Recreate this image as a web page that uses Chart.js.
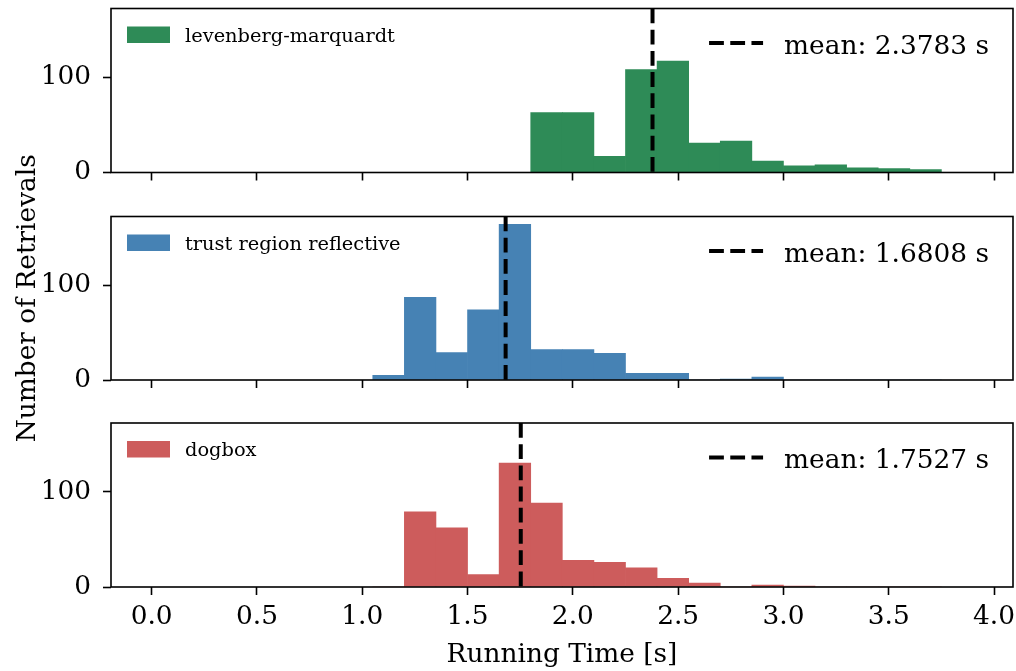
<!DOCTYPE html>
<html>
<head>
<meta charset="utf-8">
<script src="https://cdn.jsdelivr.net/npm/chart.js@4.4.1/dist/chart.umd.min.js"></script>
<style>
  html, body { margin: 0; padding: 0; background: #fff; }
  #wrap { position: relative; width: 1016px; height: 671px; }
  #wrap canvas { position: absolute; left: 0; top: 0; }
</style>
</head>
<body>
<div id="wrap">
  <canvas id="lm" width="1016" height="671"></canvas>
  <canvas id="trf" width="1016" height="671"></canvas>
  <canvas id="dogbox" width="1016" height="671"></canvas>
</div>
<script>
// histogram bins (left edges, seconds), shared by all three panels
const binStarts = [1.05, 1.2, 1.35, 1.5, 1.65, 1.8, 1.95, 2.1, 2.25, 2.4, 2.55, 2.7, 2.85, 3.0, 3.15, 3.3, 3.45, 3.6];
const binWidth = 0.15;

// counts per bin
const lmCounts     = [0, 0, 0, 0, 0, 63, 63, 17, 108, 117, 31, 33, 12, 7, 8, 5, 4, 3];
const trfCounts    = [5, 87, 29, 74, 164, 32, 32, 28, 7, 7, 0, 1, 3, 0, 0, 0, 0, 0];
const dogboxCounts = [0, 79, 62, 13, 130, 88, 28, 26, 20, 9, 4, 0, 2, 1, 0, 0, 0, 0];

const methodNames = ['levenberg-marquardt', 'trust region reflective', 'dogbox'];
const meanTimes = [2.3783, 1.6808, 1.7527];

const xTickValues = [0, 0.5, 1.0, 1.5, 2.0, 2.5, 3.0, 3.5, 4.0];
const yTickValues = [0, 100];

Chart.defaults.font.family = "'DejaVu Serif'";
Chart.defaults.color = 'black';

const FS = 26.4;   // main text size
const yMax = Math.max(...lmCounts, ...trfCounts, ...dogboxCounts) * 1.05;

// legend patch + mean legend + axes frame
const panelDecor = {
  id: 'panelDecor',
  afterDatasetsDraw(chart, args, opts) {
    const { ctx, chartArea: a } = chart;
    ctx.save();
    ctx.fillStyle = opts.color;
    ctx.fillRect(a.left + 16, a.top + 18, 43, 16.5);
    ctx.fillStyle = '#000';
    ctx.font = "19.4px 'DejaVu Serif'";
    ctx.textBaseline = 'alphabetic';
    ctx.textAlign = 'left';
    ctx.fillText(opts.label, a.left + 74, a.top + 33);

    ctx.font = FS + "px 'DejaVu Serif'";
    ctx.textAlign = 'right';
    const tx = a.right - 24;
    ctx.fillText(opts.meanText, tx, a.top + 45);
    const w = ctx.measureText(opts.meanText).width;
    const x1 = tx - w - 21;
    ctx.strokeStyle = '#000';
    ctx.lineWidth = 4;
    ctx.lineCap = 'butt';
    ctx.setLineDash([14.8, 6.4]);
    ctx.beginPath();
    ctx.moveTo(x1 - 54, a.top + 34.6);
    ctx.lineTo(x1, a.top + 34.6);
    ctx.stroke();

    ctx.setLineDash([]);
    ctx.lineWidth = 1.6;
    ctx.strokeRect(a.left, a.top, a.right - a.left, a.bottom - a.top);
    ctx.restore();
  }
};

function noPad(s) {
  s.paddingTop = 0;
  s.paddingBottom = 0;
  s.paddingLeft = 0;
  s.paddingRight = 0;
}

function makePanel(id, counts, name, mean, color, top, bottom, last, yTitle) {
  const xHeight = last ? 671 - bottom : 30;
  return new Chart(document.getElementById(id), {
    type: 'bar',
    data: {
      datasets: [
        {
          type: 'line',
          data: [{ x: mean, y: yMax }, { x: mean, y: 0 }],
          borderColor: '#000',
          borderWidth: 4,
          borderDash: [14.8, 6.4],
          borderCapStyle: 'butt',
          pointRadius: 0,
          order: 0
        },
        {
          label: name,
          data: binStarts.map((s, i) => ({ x: s + binWidth / 2, y: counts[i] })),
          backgroundColor: color,
          borderWidth: 0,
          barPercentage: 1,
          categoryPercentage: 1,
          order: 1
        }
      ]
    },
    options: {
      responsive: false,
      animation: false,
      events: [],
      layout: { padding: { top: top, bottom: last ? 0 : 671 - bottom - xHeight, left: 0, right: 3 } },
      scales: {
        x: {
          type: 'linear',
          min: -0.193,
          max: 4.09,
          offset: false,
          afterFit(s) { s.height = xHeight; noPad(s); },
          afterBuildTicks(s) { s.ticks = xTickValues.map(v => ({ value: v })); },
          ticks: {
            display: last,
            autoSkip: false,
            maxRotation: 0,
            padding: 6,
            font: { size: FS },
            color: '#000',
            callback: v => Number(v).toFixed(1)
          },
          grid: { offset: false, drawOnChartArea: false, tickLength: 8, tickWidth: 1.6, tickColor: '#000' },
          border: { display: false },
          title: {
            display: last,
            text: 'Running Time [s]',
            font: { size: FS },
            color: '#000',
            padding: { top: 0, bottom: 0 }
          }
        },
        y: {
          min: 0,
          max: yMax,
          afterFit(s) { s.width = 111; noPad(s); },
          afterBuildTicks(s) { s.ticks = yTickValues.map(v => ({ value: v })); },
          ticks: { padding: 12, font: { size: FS }, color: '#000', callback: v => String(v) },
          grid: { offset: false, drawOnChartArea: false, tickLength: 8, tickWidth: 1.6, tickColor: '#000' },
          border: { display: false },
          title: {
            display: yTitle,
            text: 'Number of Retrievals',
            font: { size: FS },
            color: '#000',
            padding: { top: 12, bottom: 0 }
          }
        }
      },
      plugins: {
        legend: { display: false },
        tooltip: { enabled: false },
        panelDecor: { color: color, label: name, meanText: 'mean: ' + mean.toFixed(4) + ' s' }
      }
    },
    plugins: [panelDecor]
  });
}

makePanel('lm', lmCounts, methodNames[0], meanTimes[0], '#2e8b57', 8.5, 172.5, false, false);
makePanel('trf', trfCounts, methodNames[1], meanTimes[1], '#4682b4', 216.5, 380, false, true);
makePanel('dogbox', dogboxCounts, methodNames[2], meanTimes[2], '#cd5c5c', 423, 587, true, false);
</script>
</body>
</html>
